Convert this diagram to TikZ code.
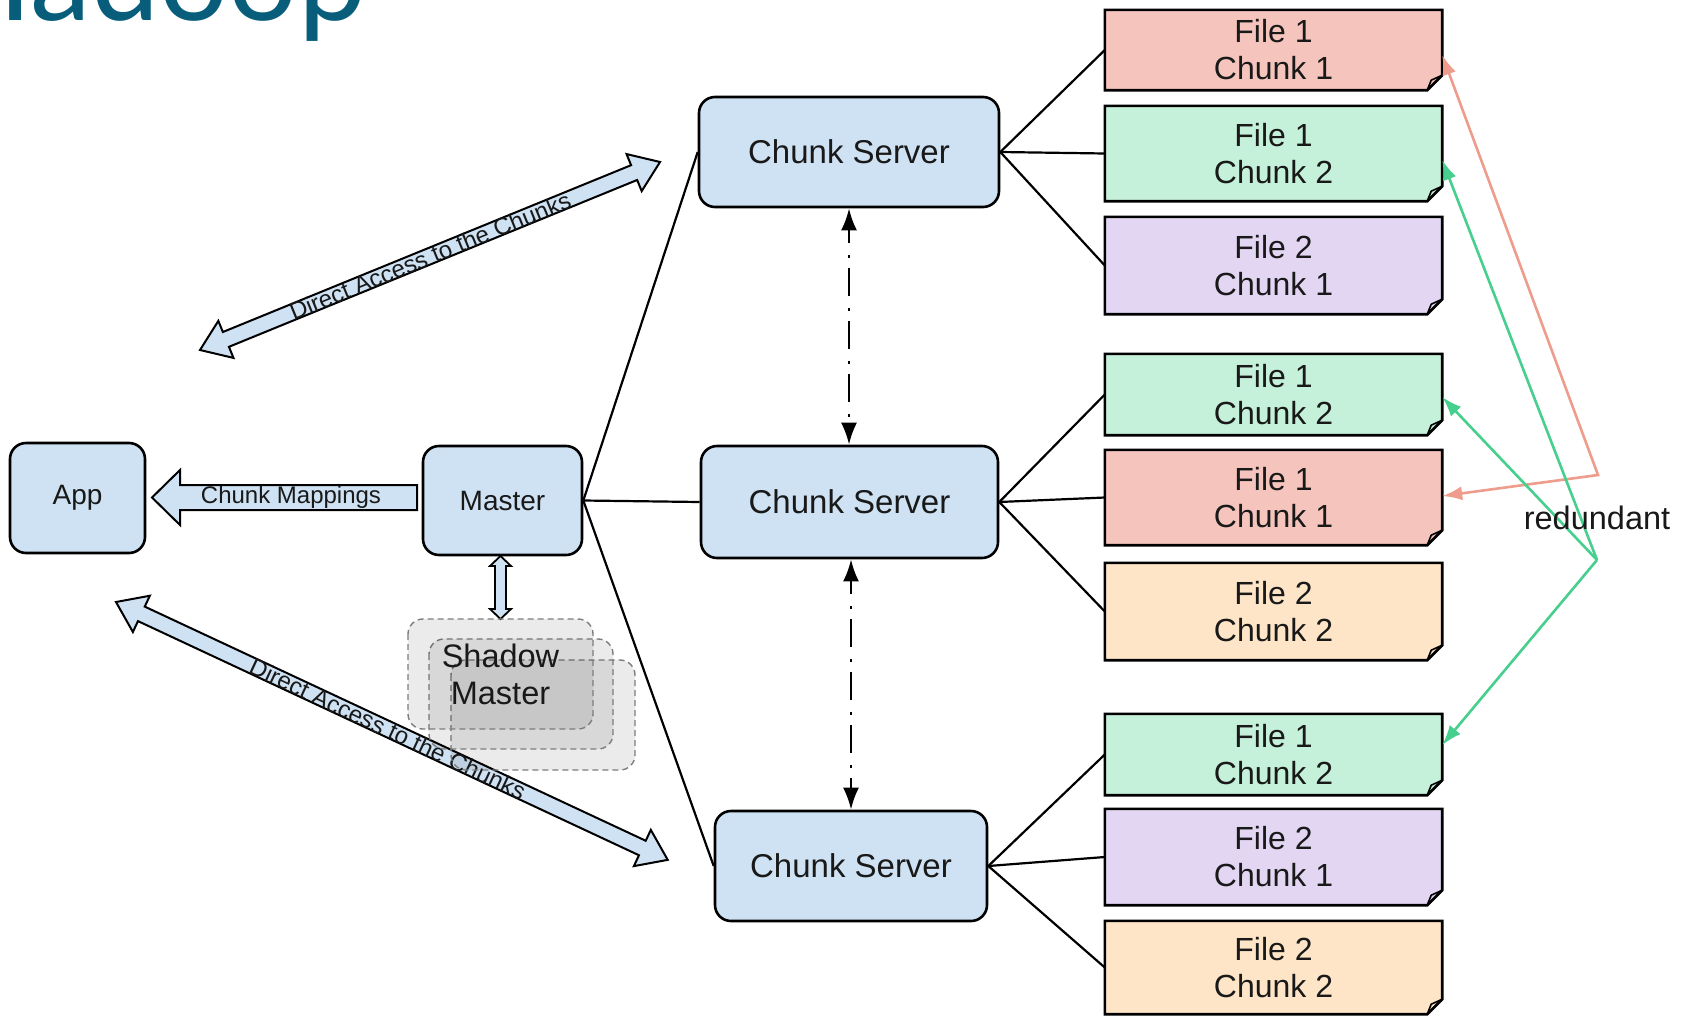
\documentclass[tikz,border=0pt]{standalone}
\usepackage{fontspec}
\setmainfont{Liberation Sans}
\newfontfamily\titlefont{Lato}
\usetikzlibrary{arrows.meta,calc}
\pgfdeclarelayer{background}
\pgfsetlayers{background,main}

\definecolor{boxblue}{RGB}{207,226,243}
\definecolor{fred}{RGB}{245,197,189}
\definecolor{fgreen}{RGB}{197,241,218}
\definecolor{fpurple}{RGB}{226,214,243}
\definecolor{fpeach}{RGB}{254,229,199}
\definecolor{lsalmon}{RGB}{238,156,140}
\definecolor{lgreen}{RGB}{70,207,141}
\definecolor{titleteal}{RGB}{8,94,122}
\definecolor{txt}{RGB}{25,25,25}
\definecolor{shadowline}{RGB}{125,125,125}

\begin{document}
\begin{tikzpicture}[x=1pt,y=-1pt,
  bluebox/.style={draw=black, line width=2.6pt, fill=boxblue, rounded corners=16pt,
    inner sep=0pt, text=txt},
  filenode/.style={minimum width=337pt, inner sep=0pt, align=center, text=txt,
    font=\fontsize{32}{37}\selectfont},
  fileshape/.style={draw=black, line width=2.6pt, line join=miter},
  foldline/.style={draw=black, line width=1.6pt},
  link/.style={draw=black, line width=2.2pt},
  blockarrow/.style={draw=black, line width=2pt, fill=boxblue, line join=miter},
  arrowtext/.style={inner sep=0pt, text=txt, font=\fontsize{24}{28}\selectfont},
  dashdot/.style={draw=black, line width=2.7pt,
    dash pattern=on 28pt off 12pt on 3pt off 10pt, dash phase=14pt,
    {Latex[length=22pt,width=16pt]}-{Latex[length=22pt,width=16pt]}},
  shadowbox/.style={draw=shadowline, line width=1.4pt, dash pattern=on 6pt off 4pt,
    fill=black, fill opacity=0.08, rounded corners=15pt},
  salmonline/.style={draw=lsalmon, line width=2.6pt,
    {Latex[length=20pt,width=14pt]}-{Latex[length=20pt,width=14pt]}},
  greenline/.style={draw=lgreen, line width=2.6pt, -{Latex[length=20pt,width=14pt]}},
]
\useasboundingbox (0,0) rectangle (1691,1017);
\begin{pgfonlayer}{background}
  \fill[white] (0,0) rectangle (1691,1017);
\end{pgfonlayer}

% title
\begin{scope}
  \clip (0,0) rectangle (1691,1017);
  \node[anchor=base west, inner sep=0pt, text=titleteal,
        font=\titlefont\fontsize{122}{122}\selectfont] (title) at (-61,20) {Hadoop};
\end{scope}

% blue nodes
\node[bluebox, minimum width=135pt, minimum height=110pt,
      font=\fontsize{28}{32}\selectfont] (app) at (77.5,498) {App};
\node[bluebox, minimum width=159pt, minimum height=109pt,
      font=\fontsize{28}{32}\selectfont] (ms) at (502.5,500.5) {Master};
\node[bluebox, minimum width=300pt, minimum height=110pt,
      font=\fontsize{33}{38}\selectfont] (cs1) at (849,152) {Chunk Server};
\node[bluebox, minimum width=297pt, minimum height=112pt,
      font=\fontsize{33}{38}\selectfont] (cs2) at (849.5,502) {Chunk Server};
\node[bluebox, minimum width=272pt, minimum height=110pt,
      font=\fontsize{33}{38}\selectfont] (cs3) at (851,866) {Chunk Server};

% file nodes
\node[filenode, minimum height=80pt] (f1) at (1273.5,50) {File 1\\Chunk 1};
\node[filenode, minimum height=95pt] (f2) at (1273.5,153.5) {File 1\\Chunk 2};
\node[filenode, minimum height=97pt] (f3) at (1273.5,265.5) {File 2\\Chunk 1};
\node[filenode, minimum height=81pt] (f4) at (1273.5,394.5) {File 1\\Chunk 2};
\node[filenode, minimum height=95pt] (f5) at (1273.5,497.5) {File 1\\Chunk 1};
\node[filenode, minimum height=97pt] (f6) at (1273.5,611.5) {File 2\\Chunk 2};
\node[filenode, minimum height=81pt] (f7) at (1273.5,754.5) {File 1\\Chunk 2};
\node[filenode, minimum height=96pt] (f8) at (1273.5,857) {File 2\\Chunk 1};
\node[filenode, minimum height=93pt] (f9) at (1273.5,967.5) {File 2\\Chunk 2};

\begin{pgfonlayer}{background}
  \foreach \n/\c in {f1/fred,f2/fgreen,f3/fpurple,f4/fgreen,f5/fred,f6/fpeach,f7/fgreen,f8/fpurple,f9/fpeach}{
    \filldraw[fileshape, fill=\c] (\n.north west) -- (\n.north east)
      -- ($(\n.south east)+(0,-15)$) -- ($(\n.south east)+(-15,0)$)
      -- (\n.south west) -- cycle;
    \draw[foldline] ($(\n.south east)+(-15,0)$) -- ($(\n.south east)+(-11,-10)$)
      .. controls ($(\n.south east)+(-6,-13)$) .. ($(\n.south east)+(0,-15)$);
  }
\end{pgfonlayer}

% black links
\draw[link] (ms.east) -- (cs1.west);
\draw[link] (ms.east) -- (cs2.west);
\draw[link] (ms.east) -- (cs3.west);
\draw[link] (cs1.east) -- (f1.west);
\draw[link] (cs1.east) -- (f2.west);
\draw[link] (cs1.east) -- (f3.west);
\draw[link] (cs2.east) -- (f4.west);
\draw[link] (cs2.east) -- (f5.west);
\draw[link] (cs2.east) -- (f6.west);
\draw[link] (cs3.east) -- (f7.west);
\draw[link] (cs3.east) -- (f8.west);
\draw[link] (cs3.east) -- (f9.west);

% dash-dot arrows between chunk servers
\draw[dashdot] (cs1.south) -- (cs1.south |- cs2.north);
\draw[dashdot] (cs3.north |- cs2.south) -- (cs3.north);

% chunk mappings block arrow
\filldraw[blockarrow] (152,497.5) -- (180,470) -- (180,485) -- (417,485) -- (417,510)
  -- (180,510) -- (180,525) -- cycle;
\node[arrowtext] (cmt) at (291,497.5) {Chunk Mappings};

% upper direct access arrow
\begin{scope}[shift={(200,350)}, rotate=22.23]
  \filldraw[blockarrow] (0,0) -- (28,-20) -- (28,-8) -- (469,-8) -- (469,-20) -- (497,0)
    -- (469,20) -- (469,8) -- (28,8) -- (28,20) -- cycle;
  \node[arrowtext, rotate=22.23] (da1) at (248.5,0) {Direct Access to the Chunks};
\end{scope}

% lower direct access arrow
\begin{scope}[shift={(116,602)}, rotate=-25.05]
  \filldraw[blockarrow] (0,0) -- (28,-20) -- (28,-8) -- (581,-8) -- (581,-20) -- (609,0)
    -- (581,20) -- (581,8) -- (28,8) -- (28,20) -- cycle;
  \node[arrowtext, rotate=-25.05] (da2) at (300,0) {Direct Access to the Chunks};
\end{scope}

% master <-> shadow small double arrow
\filldraw[blockarrow, line width=1.8pt] (500.5,556) -- (511,566) -- (506,566) -- (506,609)
  -- (511,609) -- (500.5,619) -- (490,609) -- (495,609) -- (495,566) -- (490,566) -- cycle;

% shadow master stack
\path[shadowbox] (451,660) rectangle (635,770);
\path[shadowbox] (429,639) rectangle (613,749);
\path[shadowbox] (408,619) rectangle (593,729);
\node[align=center, inner sep=0pt, text=txt, font=\fontsize{32.5}{37}\selectfont]
  (shadow) at (500.5,674) {Shadow\\Master};

% redundant links
\coordinate (rp) at (1598,475);
\coordinate (gp) at (1597,560);
\draw[salmonline] ($(f1.east)+(0,5)$) -- (rp) -- ($(f5.east)+(0,-1.5)$);
\draw[greenline] (gp) -- ($(f2.east)+(0,6.5)$);
\draw[greenline] (gp) -- ($(f4.east)+(0,2.5)$);
\draw[greenline] (gp) -- ($(f7.east)+(0,-9.5)$);
\node[inner sep=0pt, text=txt, font=\fontsize{32.5}{37}\selectfont] (red) at (1597,518) {redundant};
\end{tikzpicture}
\end{document}
